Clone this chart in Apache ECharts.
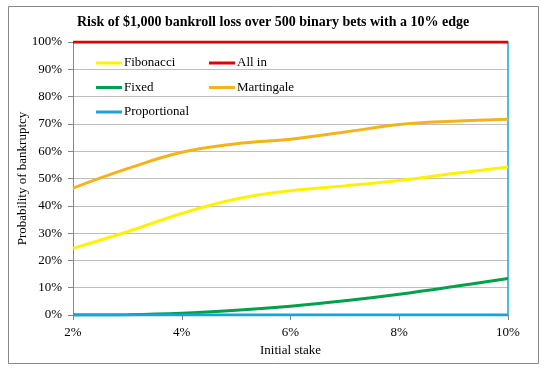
<!DOCTYPE html>
<html>
<head>
<meta charset="utf-8">
<script src="https://cdn.jsdelivr.net/npm/echarts@6/dist/echarts.min.js"></script>
<style>
html,body{margin:0;padding:0;background:#fff;}
#c{width:556px;height:374px;}
</style>
</head>
<body>
<div id="c"></div>
<script>
var stakes = [2, 3, 4, 5, 6, 7, 8, 9, 10];
var fibonacci = [24.4, 30.5, 37.2, 42.5, 45.5, 47.3, 49.3, 51.8, 54.2];
var allIn = [100, 100, 100, 100, 100, 100, 100, 100, 100];
var fixed = [0, 0.1, 0.6, 1.7, 3.2, 5.2, 7.6, 10.4, 13.4];
var martingale = [46.5, 53.6, 59.6, 62.7, 64.4, 67.0, 69.8, 71.0, 71.7];
var proportional = [0, 0, 0, 0, 0, 0, 0, 0, 0];
var seriesNames = ['Fibonacci', 'All in', 'Fixed', 'Martingale', 'Proportional'];
var seriesColors = ['#FFF200', '#E00000', '#00A14B', '#F5B31A', '#1BA1DB'];
var seriesData = [fibonacci, allIn, fixed, martingale, proportional];

var font = '"Liberation Serif", "Times New Roman", serif';
var chart = echarts.init(document.getElementById('c'));

function pairs(arr) {
  return stakes.map(function (s, i) { return [s, arr[i]]; });
}

var series = seriesNames.map(function (n, i) {
  return {
    name: n,
    type: 'line',
    data: pairs(seriesData[i]),
    smooth: 0.4,
    showSymbol: false,
    symbol: 'none',
    lineStyle: { color: seriesColors[i], width: 3 },
    itemStyle: { color: seriesColors[i] },
    z: 2 + i
  };
});

var legendCommon = {
  orient: 'vertical',
  top: 55,
  padding: 0,
  itemGap: 8.5,
  itemWidth: 26,
  itemHeight: 3,
  icon: 'rect',
  textStyle: { fontFamily: font, fontSize: 13, color: '#000', lineHeight: 16, padding: [0, 0, 0, -3] }
};

chart.setOption({
  animation: false,
  backgroundColor: '#fff',
  textStyle: { fontFamily: font },
  title: {
    text: 'Risk of $1,000 bankroll loss over 500 binary bets with a 10% edge',
    left: 77,
    top: 15,
    padding: 0,
    textStyle: { fontFamily: font, fontSize: 14, fontWeight: 'bold', color: '#000' }
  },
  legend: [
    Object.assign({}, legendCommon, { left: 96, data: ['Fibonacci', 'Fixed', 'Proportional'] }),
    Object.assign({}, legendCommon, { left: 209, data: ['All in', 'Martingale'] })
  ],
  grid: { left: 73, right: 48, top: 42, bottom: 59 },
  xAxis: {
    type: 'value',
    min: 2, max: 10, interval: 2,
    name: 'Initial stake',
    nameLocation: 'middle',
    nameGap: 29,
    nameMoveOverlap: false,
    nameTextStyle: { fontFamily: font, fontSize: 13, color: '#000' },
    axisLine: { lineStyle: { color: '#868686' } },
    axisTick: { show: true, length: 5, lineStyle: { color: '#868686' } },
    axisLabel: { formatter: '{value}%', fontFamily: font, fontSize: 13, color: '#000', margin: 11 },
    splitLine: { show: false }
  },
  yAxis: [{
    type: 'value',
    min: 0, max: 100, interval: 10,
    name: 'Probability of bankruptcy',
    nameLocation: 'middle',
    nameGap: 44,
    nameMoveOverlap: false,
    nameTextStyle: { fontFamily: font, fontSize: 13, color: '#000' },
    axisLine: { show: true, lineStyle: { color: '#868686' } },
    axisTick: { show: true, length: 5, lineStyle: { color: '#868686' } },
    axisLabel: { formatter: '{value}%', fontFamily: font, fontSize: 13, color: '#000', margin: 11 },
    splitLine: { show: true, lineStyle: { color: '#BFBFBF', width: 1 } }
  }, {
    type: 'value',
    position: 'right',
    min: 0, max: 100, interval: 10,
    axisLine: { show: true, lineStyle: { color: '#1BA1DB', width: 1.5 } },
    axisTick: { show: false },
    axisLabel: { show: false },
    splitLine: { show: false }
  }],
  graphic: [{
    type: 'rect',
    shape: { x: 8.5, y: 6.5, width: 530, height: 357 },
    style: { fill: 'none', stroke: '#898989', lineWidth: 1 },
    silent: true
  }],
  series: series
});
</script>
</body>
</html>
